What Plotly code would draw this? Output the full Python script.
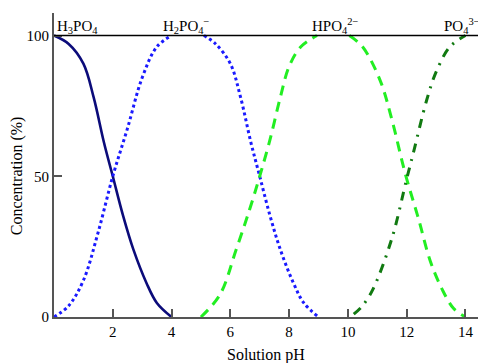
import plotly.graph_objects as go

# pH / concentration (%) readings for each species
h3po4_ph = [0, 0.5, 1.0, 1.35, 1.7, 2.0, 2.35, 2.7, 3.15, 3.5, 4.0]
h3po4_c = [100, 97, 90, 78, 62, 50, 36, 24, 12, 5, 0]

h2po4_ph = [0, 0.5, 1.0, 1.5, 2.0, 2.5, 3.0, 3.5, 4.0, 5.1, 5.5, 6.0, 6.35, 6.7, 7.0, 7.35, 7.7, 8.15, 8.5, 9.0]
h2po4_c = [0, 4, 13, 30, 50, 67, 85, 96, 100, 100, 97, 90, 78, 62, 50, 36, 24, 12, 5, 0]

hpo4_ph = [5.0, 5.65, 6.2, 6.65, 7.0, 7.35, 7.7, 8.0, 8.4, 8.95, 10.05, 10.5, 11.1, 11.5, 11.95, 12.4, 12.8, 13.2, 13.6, 14.0]
hpo4_c = [0, 8, 24, 38, 50, 63, 78, 89, 96, 100, 100, 96, 84, 70, 51, 35, 20, 10, 3, 0]

po4_ph = [10.2, 10.5, 10.86, 11.5, 12.0, 12.22, 12.68, 13.0, 13.47, 14.0]
po4_c = [1, 4, 10, 28, 49, 58, 77, 87, 96, 100]

x_ticks = [2, 4, 6, 8, 10, 12, 14]
y_ticks = [0, 50, 100]

labels = ["H<sub>3</sub>PO<sub>4</sub>", "H<sub>2</sub>PO<sub>4</sub><sup>−</sup>",
          "HPO<sub>4</sub><sup>2−</sup>", "PO<sub>4</sub><sup>3−</sup>"]
label_x = [0.05, 4.52, 9.58, 13.9]
label_anchor = ["left", "center", "center", "center"]

FONT = "Liberation Serif"


def split_plateau(xs, ys):
    """Break the line where it runs along the 100 % level (hidden by the reference line)."""
    ox, oy = [], []
    for i, (x, y) in enumerate(zip(xs, ys)):
        if i > 0 and ys[i - 1] == 100 and y == 100:
            ox.append(None)
            oy.append(None)
        ox.append(x)
        oy.append(y)
    return ox, oy


series = [
    (h3po4_ph, h3po4_c, dict(color="#0b0b7a", width=2.6)),
    (h2po4_ph, h2po4_c, dict(color="#1a1aff", width=3, dash="dot")),
    (hpo4_ph, hpo4_c, dict(color="#22ee22", width=3, dash="10px,7px")),
    (po4_ph, po4_c, dict(color="#117a11", width=3, dash="9px,7px,2px,7px")),
]

fig = go.Figure()
for xs, ys, ln in series:
    sx, sy = split_plateau(xs, ys)
    fig.add_trace(go.Scatter(x=sx, y=sy, mode="lines", connectgaps=False,
                             line=dict(shape="spline", **ln), hoverinfo="skip"))

# 100% reference line
fig.add_shape(type="line", xref="paper", x0=0, x1=1, yref="y", y0=100, y1=100,
              line=dict(color="black", width=1.5), layer="above")

for lab, lx, anc in zip(labels, label_x, label_anchor):
    fig.add_annotation(x=lx, y=100, text=lab, showarrow=False, yanchor="bottom", xanchor=anc,
                       yshift=-2, font=dict(family=FONT, size=15, color="black"))

# axis titles
fig.add_annotation(x=7.2, xref="x", y=0, yref="paper", text="Solution pH", showarrow=False,
                   yanchor="middle", yshift=-38, font=dict(family=FONT, size=16, color="black"))
fig.add_annotation(x=0, xref="paper", y=50, yref="y", text="Concentration (%)", showarrow=False,
                   textangle=-90, xanchor="center", yanchor="middle", xshift=-37,
                   font=dict(family=FONT, size=16, color="black"))

# the page body has an 8px margin, so the figure is sized/offset to compensate
fig.update_layout(
    width=478, height=355,
    margin=dict(l=46, r=0, t=5, b=46, autoexpand=False),
    plot_bgcolor="white", paper_bgcolor="white",
    showlegend=False,
    font=dict(family=FONT, size=15, color="black"),
    xaxis=dict(range=[0, 14.7], tickvals=x_ticks, ticktext=[str(v) for v in x_ticks],
               ticks="inside", ticklen=8, tickcolor="#555", tickwidth=1.5, automargin=False,
               showline=True, linecolor="#555", linewidth=2, showgrid=False, zeroline=False),
    yaxis=dict(range=[0, 108], tickvals=y_ticks, ticktext=[str(v) for v in y_ticks],
               ticks="inside", ticklen=8, tickcolor="#555", tickwidth=1.5, automargin=False,
               showline=True, linecolor="#555", linewidth=2, showgrid=False, zeroline=False),
)

fig.write_html("out.html")
